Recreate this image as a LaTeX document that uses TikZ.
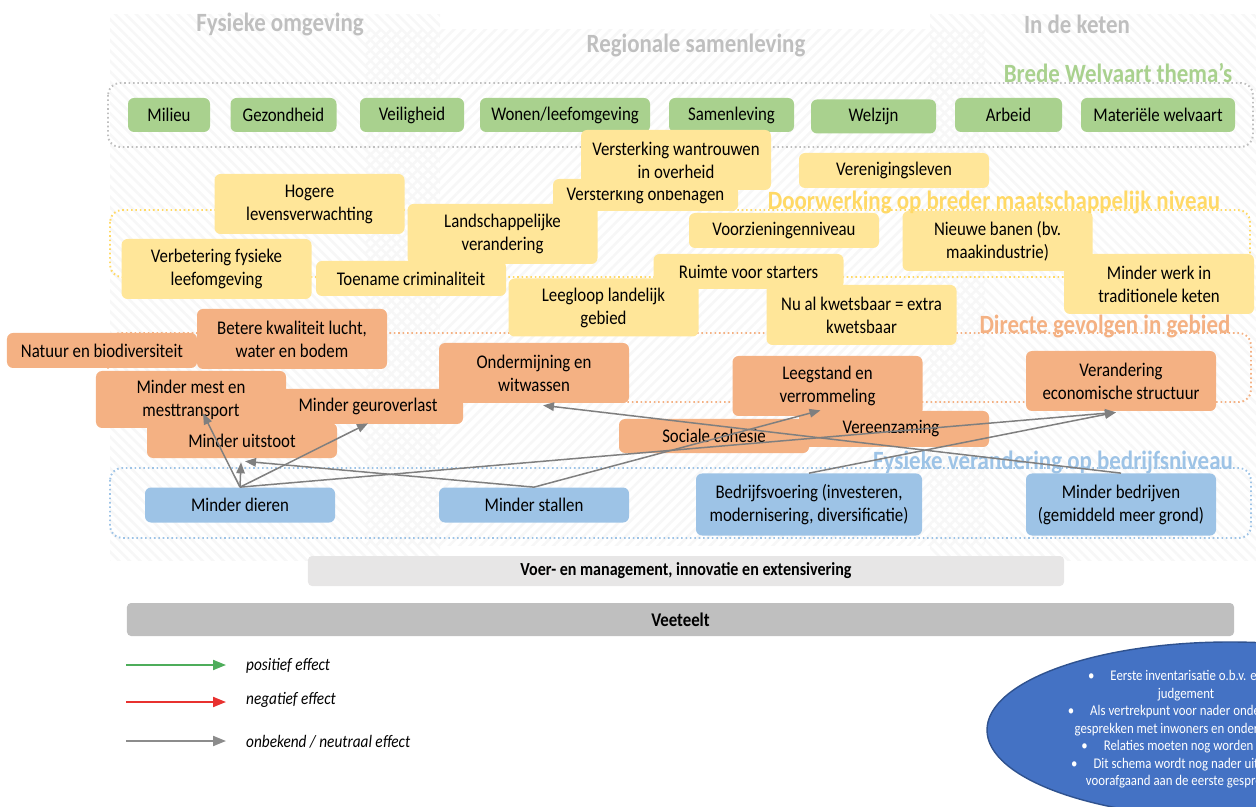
\documentclass[tikz,border=0pt]{standalone}
\usepackage{fontspec}
\setmainfont{Carlito}[FakeStretch=0.87]
\usetikzlibrary{arrows.meta, calc, patterns.meta}
\definecolor{themegreen}{HTML}{A9D18E}
\definecolor{chainyellow}{HTML}{FFE699}
\definecolor{titleyellow}{HTML}{FFD966}
\definecolor{areaorange}{HTML}{F4B183}
\definecolor{farmblue}{HTML}{9DC3E6}
\definecolor{zonegray}{HTML}{BFBFBF}
\definecolor{barlight}{HTML}{E7E6E6}
\definecolor{bargray}{HTML}{BFBFBF}
\definecolor{arrowgray}{HTML}{7F7F7F}
\definecolor{posgreen}{HTML}{4EAD5B}
\definecolor{negred}{HTML}{E8312F}
\definecolor{neutralgray}{HTML}{8C8C8C}
\definecolor{noteblue}{HTML}{4472C4}
\definecolor{noteedge}{HTML}{2F528F}

\begin{document}
\begin{tikzpicture}[
  x=0.2mm, y=-0.2mm,
  box/.style={rounded corners=1.2mm, minimum width=38mm, minimum height=7mm,
              inner sep=0pt, align=center, font=\fontsize{11}{13.1}\selectfont},
  twoline/.style={minimum height=12mm},
  theme/.style={box, fill=themegreen, minimum height=6.8mm},
  society/.style={box, fill=chainyellow},
  direct/.style={box, fill=areaorange},
  farm/.style={box, fill=farmblue},
  layer/.style={line width=1.1pt, dash pattern=on 0.9pt off 1.6pt, rounded corners=2.4mm},
  layertitle/.style={font=\fontsize{15}{18}\selectfont\bfseries},
  zone/.style={font=\fontsize{15}{18}\selectfont\bfseries, text=zonegray},
  hatch/.style={pattern={Lines[angle=#1, distance=4.2pt, line width=1.5pt]}, pattern color=gray!6},
  effect/.style={-{Triangle[length=2.2mm, width=1.7mm]}, line width=0.85pt, arrowgray},
  legend/.style={-{Triangle[length=2.6mm, width=2mm]}, line width=1.1pt, shorten >=2.8mm},
  legendtext/.style={anchor=west, font=\fontsize{10}{12}\selectfont\itshape},
]

\useasboundingbox (0,0) rectangle (1256,807);
\clip (0,0) rectangle (1256,807);

\fill[hatch=-45] (110,15) rectangle (440,560);
\fill[hatch=45] (365,30) rectangle (985,545);
\fill[hatch=-45] (930,15) rectangle (1256,560);

\node[zone] (fysiek) at (280,24) {Fysieke omgeving};
\node[zone] (regio) at (696,45) {Regionale samenleving};
\node[zone] (keten) at (1077,24) {In de keten};

\draw[layer, gray!50] (108,83) rectangle (1253,147);
\draw[layer, titleyellow] (110,210) rectangle (1250,277);
\draw[layer, areaorange] (108,333) rectangle (1251,402);
\draw[layer, farmblue] (110,468) rectangle (1251,538);

\node[theme, minimum width=16.4mm] (milieu) at (169,115) {Milieu};
\node[theme, minimum width=21.2mm] (gezondheid) at (283.5,115) {Gezondheid};
\node[theme, minimum width=20.8mm] (veiligheid) at (412,115) {Veiligheid};
\node[theme, minimum width=34mm] (wonen) at (565,115) {Wonen/leefomgeving};
\node[theme, minimum width=25mm] (samenleving) at (731.5,115) {Samenleving};
\node[theme, minimum width=25mm] (welzijn) at (873.5,116.5) {Welzijn};
\node[theme, minimum width=21.4mm] (arbeid) at (1008.5,115) {Arbeid};
\node[theme, minimum width=30.8mm] (materieel) at (1158,115) {Materiële welvaart};

\node[society, minimum width=37mm, minimum height=6.4mm] (onbehagen) at (645.5,195) {Versterking onbehagen};
\node[society, twoline] (wantrouwen) at (676,160) {Versterking wantrouwen\\in overheid};
\node[society] (vereniging) at (894,170.5) {Verenigingsleven};
\node[society, twoline] (levensverw) at (309.5,204) {Hogere\\levensverwachting};
\node[society, twoline] (landschap) at (502.5,234) {Landschappelijke\\verandering};
\node[society] (voorziening) at (784,230.5) {Voorzieningenniveau};
\node[society, twoline] (banen) at (997.5,241) {Nieuwe banen (bv.\\maakindustrie)};
\node[society, twoline] (leefomg) at (216.5,269) {Verbetering fysieke\\leefomgeving};
\node[society] (criminaliteit) at (411,278.5) {Toename criminaliteit};
\node[society] (starters) at (748.5,271.5) {Ruimte voor starters};
\node[society, twoline] (werk) at (1159,284) {Minder werk in\\traditionele keten};
\node[society, minimum height=11.6mm] (leegloop) at (603.5,307.5) {Leegloop landelijk\\gebied};
\node[society, twoline] (kwetsbaar) at (861.5,315) {Nu al kwetsbaar = extra\\kwetsbaar};

\node[direct] (natuur) at (102,350.5) {Natuur en biodiversiteit};
\node[direct, twoline] (lucht) at (292,339) {Betere kwaliteit lucht,\\water en bodem};
\node[direct, minimum height=11.4mm] (mest) at (191,399.5) {Minder mest en\\mesttransport};
\node[direct] (geuroverlast) at (368,406.5) {Minder geuroverlast};
\node[direct] (uitstoot) at (242,440.5) {Minder uitstoot};
\node[direct, twoline] (ondermijning) at (534,373) {Ondermijning en\\witwassen};
\node[direct, minimum height=7.2mm] (vereenzaming) at (894,429) {\hspace*{-1.2mm}Vereenzaming};
\node[direct, minimum height=6.8mm] (cohesie) at (714,436) {Sociale cohesie};
\node[direct, twoline] (leegstand) at (827.5,386) {Leegstand en\\verrommeling};
\node[direct, twoline] (econ) at (1121,381) {Verandering\\economische structuur};

\node[farm] (dieren) at (240,505) {Minder dieren};
\node[farm] (stallen) at (534,505) {Minder stallen};
\node[farm, minimum width=45.2mm, minimum height=12.4mm] (bedrijfsvoering) at (809,504.5) {Bedrijfsvoering (investeren,\\modernisering, diversificatie)};
\node[farm, minimum height=12.4mm] (bedrijven) at (1121,504.5) {Minder bedrijven\\(gemiddeld meer grond)};

\node[layertitle, text=themegreen] (bredetitel) at (1118,73) {Brede Welvaart thema’s};
\node[layertitle, text=titleyellow] (doorwerktitel) at (994,202) {Doorwerking op breder maatschappelijk niveau};
\node[layertitle, text=areaorange] (directtitel) at (1105,326) {Directe gevolgen in gebied};
\node[layertitle, text=farmblue] (bedrijftitel) at (1053,462) {Fysieke verandering op bedrijfsniveau};

\draw[effect] (dieren.north) -- ($(mest.south)+(12,-15)$);
\draw[effect] (dieren.north) -- ($(uitstoot.south)+(-1,4)$);
\draw[effect] (dieren.north) -- ($(geuroverlast.south)+(0,-1)$);
\draw[effect] (dieren.north) -- ($(econ.south)+(-5,1)$);
\draw[effect] (stallen.north) -- ($(uitstoot.south)+(3,3)$);
\draw[effect] (stallen.north) -- ($(leegstand.south)+(-7,-6)$);
\draw[effect] (bedrijfsvoering.north) -- ($(econ.south)+(-5,1)$);
\draw[effect] (bedrijven.north) -- ($(ondermijning.south)+(9,2)$);

\node[box, fill=barlight, minimum width=151.2mm, minimum height=6mm, rounded corners=0.8mm,
      font=\fontsize{10.5}{12}\selectfont\bfseries] (voer) at (686,571)
  {Voer- en management, innovatie en extensivering};
\node[box, fill=bargray, minimum width=221.4mm, minimum height=6.6mm, rounded corners=0.8mm,
      font=\fontsize{11}{13}\selectfont\bfseries] (veeteelt) at (680.5,619.5) {Veeteelt};

\coordinate (posstart) at (126,665);
\coordinate (negstart) at (126,702);
\coordinate (neutstart) at (126,741);
\node[legendtext] (poslabel) at (240,666) {positief effect};
\node[legendtext] (neglabel) at (240,700) {negatief effect};
\node[legendtext] (neutlabel) at (240,742) {onbekend / neutraal effect};
\draw[legend, posgreen] (posstart) -- (poslabel.west |- posstart);
\draw[legend, negred] (negstart) -- (neglabel.west |- negstart);
\draw[legend, neutralgray] (neutstart) -- (neutlabel.west |- neutstart);

\draw[fill=noteblue, draw=noteedge, line width=0.8pt] (1230,730) ellipse [x radius=48.6mm, y radius=17.6mm];
\node[text=white, align=center, font=\fontsize{8.4}{9.96}\selectfont] (note) at (1186,729.5) {
  \textbullet\hspace{3.2mm}Eerste inventarisatie o.b.v. expert\\
  judgement\\
  \textbullet\hspace{3.2mm}Als vertrekpunt voor nader onderzoek en\\
  gesprekken met inwoners en ondernemers\\
  \textbullet\hspace{3.2mm}Relaties moeten nog worden gelegd\\
  \textbullet\hspace{3.2mm}Dit schema wordt nog nader uitgewerkt\\
  voorafgaand aan de eerste gesprekken};

\end{tikzpicture}
\end{document}
